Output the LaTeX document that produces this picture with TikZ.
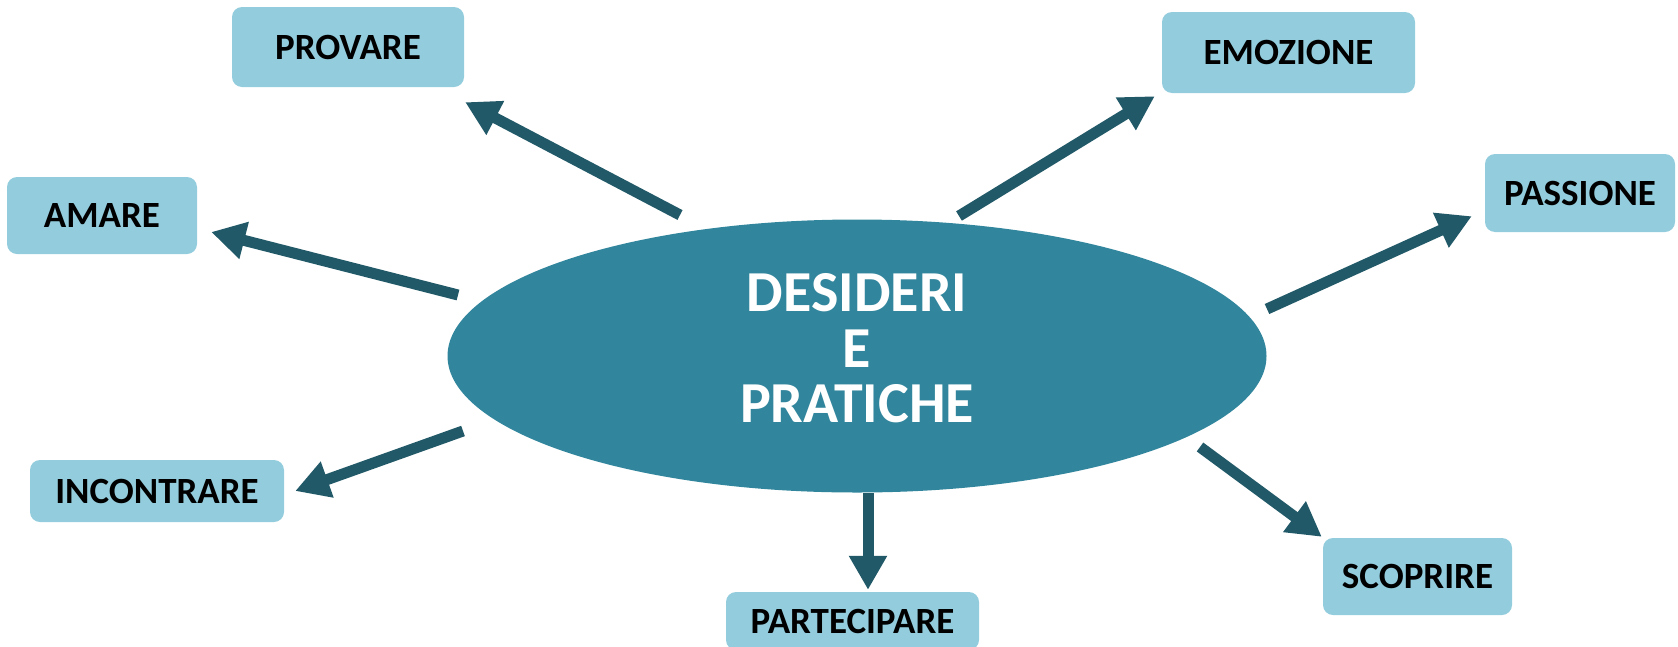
\documentclass[tikz,border=0pt]{standalone}
\usepackage{fontspec}
\setmainfont{Carlito}
\usetikzlibrary{shapes.geometric,arrows.meta,calc}
\definecolor{acqua}{HTML}{31859C}
\definecolor{acquascuro}{HTML}{215968}
\definecolor{acquachiaro}{HTML}{93CDDD}
\tikzset {casella/.style 2 args={fill=acquachiaro, rounded corners=10pt,
           minimum width=#1, minimum height=#2, inner sep=0pt,
           font=\fontsize{37}{44}\selectfont\bfseries}}
\tikzset {freccia/.style={draw=acquascuro, line width=11pt,
           -{Triangle[length=34pt,width=36pt]}}}
\tikzset {centrale/.style={ellipse, fill=acqua, text=white, inner sep=0pt,
           minimum width=819pt, minimum height=273pt, align=center,
           text depth=16pt, font=\fontsize{58}{55.5}\selectfont\bfseries}}

\begin{document}
\begin{tikzpicture}[x=1pt,y=-1pt]
  \useasboundingbox (0,0) rectangle (1678,646);
  \clip (0,0) rectangle (1678,646);
  \node [centrale] (centro) at (857,356) {DESIDERI\\E\\PRATICHE};
  \node [casella={232pt}{80pt}] (provare) at (348,47) {PROVARE};
  \node [casella={190pt}{77pt}] (amare) at (102,215.5) {AMARE};
  \node [casella={254pt}{62pt}] (incontrare) at (157,491) {INCONTRARE};
  \node [casella={253pt}{58pt}] (partecipare) at (852.5,621) {PARTECIPARE};
  \node [casella={189pt}{77pt}] (scoprire) at (1417.5,576.5) {SCOPRIRE};
  \node [casella={190pt}{78pt}] (passione) at (1580,193) {PASSIONE};
  \node [casella={253pt}{81pt}] (emozione) at (1288.5,52.5) {EMOZIONE};
  \draw [freccia] ($(centro)+(-177,-141)$) -- ($(provare.south east)+(1,15)$);
  \draw [freccia] ($(centro)+(-399,-61)$) -- ($(amare.east)+(14,16.5)$);
  \draw [freccia] ($(centro)+(-394,75)$) -- ($(incontrare.east)+(11,0)$);
  \draw [freccia] ($(centro)+(11,137)$) -- ($(partecipare.north)+(15.5,-2)$);
  \draw [freccia] ($(centro)+(343,91)$) -- ($(scoprire.north west)+(-1,-1)$);
  \draw [freccia] ($(centro)+(410,-47)$) -- ($(passione.south west)+(-13,-16)$);
  \draw [freccia] ($(centro)+(102,-140)$) -- ($(emozione.south west)+(-7,3)$);
\end{tikzpicture}
\end{document}
